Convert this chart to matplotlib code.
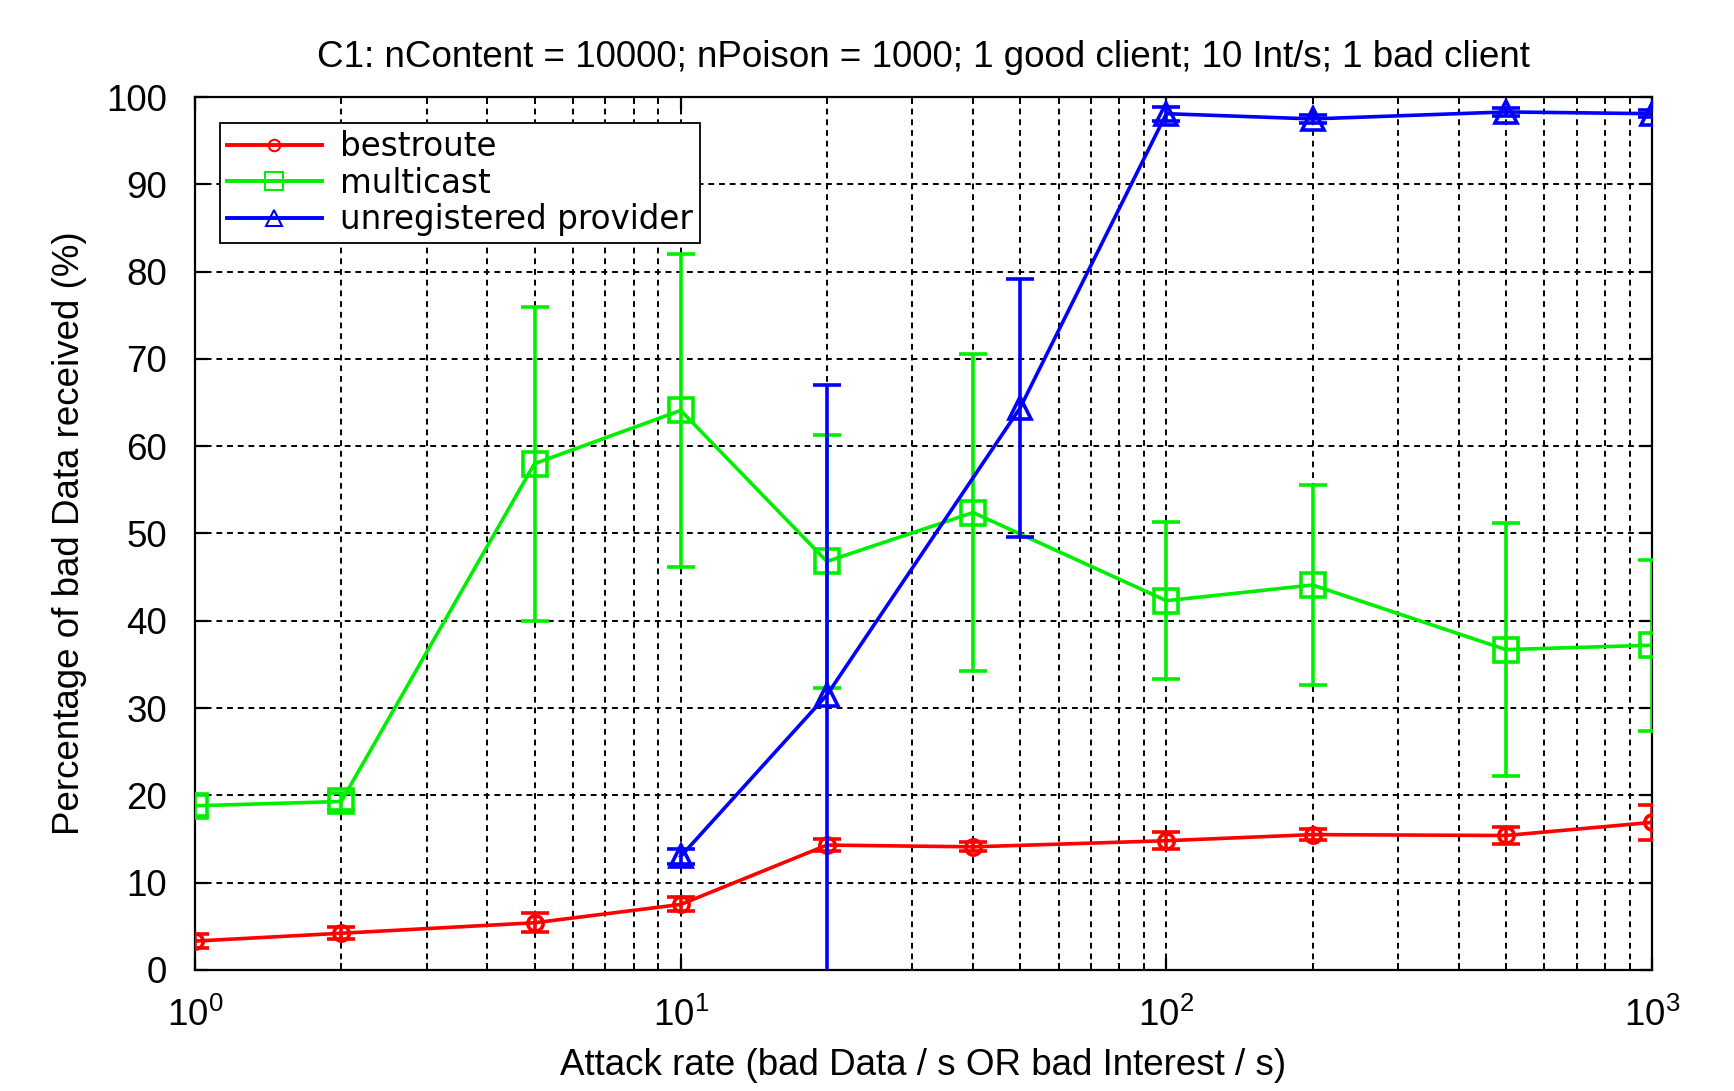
import matplotlib
matplotlib.use("Agg")
import matplotlib.pyplot as plt
from matplotlib.lines import Line2D
from matplotlib.ticker import LogLocator, NullFormatter, MultipleLocator

# Data
x_rates = [1, 2, 5, 10, 20, 40, 100, 200, 500, 1000]
bestroute_y = [3.3, 4.2, 5.4, 7.5, 14.3, 14.1, 14.8, 15.5, 15.4, 16.9]
bestroute_err = [0.8, 0.7, 1.1, 0.8, 0.7, 0.5, 1.0, 0.6, 1.0, 2.0]
multicast_y = [18.8, 19.3, 58.0, 64.1, 46.8, 52.4, 42.3, 44.1, 36.7, 37.2]
multicast_err = [1.2, 1.0, 18.0, 17.9, 14.5, 18.2, 9.0, 11.5, 14.5, 9.8]
unreg_x = [10, 20, 50, 100, 200, 500, 1000]
unreg_y = [13.0, 31.5, 64.4, 98.1, 97.5, 98.3, 98.1]
unreg_err = [0.9, 35.5, 14.8, 0.8, 0.5, 0.5, 0.4]

title = "C1: nContent = 10000; nPoison = 1000; 1 good client; 10 Int/s; 1 bad client"
xlabel = "Attack rate (bad Data / s OR bad Interest / s)"
ylabel = "Percentage of bad Data received (%)"

RED = "#ff0000"
GREEN = "#00ee00"
BLUE = "#0000ff"

plt.rcParams['font.family'] = ['Liberation Sans', 'DejaVu Sans']
plt.rcParams['mathtext.fontset'] = 'custom'
plt.rcParams['mathtext.rm'] = 'Liberation Sans'
plt.rcParams['mathtext.it'] = 'Liberation Sans'
plt.rcParams['mathtext.default'] = 'regular'

fig = plt.figure(figsize=(17.34, 10.91), dpi=100)
ax = fig.add_axes([0.1125, 0.111, 0.8402, 0.800])

series = [
    (x_rates, bestroute_y, bestroute_err, RED, 'o', 11, "bestroute"),
    (x_rates, multicast_y, multicast_err, GREEN, 's', 17, "multicast"),
    (unreg_x, unreg_y, unreg_err, BLUE, '^', 16, "unregistered provider"),
]
handles = []
for i, (xs, ys, es, c, m, ms, lab) in enumerate(series):
    ax.errorbar(xs, ys, yerr=es, color=c, marker=m, markersize=ms,
                markerfacecolor='none', markeredgecolor=c, markeredgewidth=2.6,
                linewidth=2.6, elinewidth=2.6, capsize=10, capthick=2.6,
                zorder=3 + i, clip_on=True)
    handles.append(Line2D([], [], color=c, marker=m, markersize=ms * 0.75,
                          markerfacecolor='none', markeredgecolor=c,
                          markeredgewidth=1.5, linewidth=2.8, label=lab))

ax.set_xscale('log')
ax.set_xlim(1, 1000)
ax.set_ylim(0, 100)
ax.yaxis.set_major_locator(MultipleLocator(10))
ax.xaxis.set_major_locator(LogLocator(base=10, numticks=10))
ax.xaxis.set_minor_locator(LogLocator(base=10, subs=range(2, 10), numticks=20))
ax.xaxis.set_minor_formatter(NullFormatter())

grid_kw = dict(color='black', linestyle=(0, (3, 2.5)), linewidth=1.4)
ax.grid(True, which='major', axis='both', **grid_kw)
ax.grid(True, which='minor', axis='x', **grid_kw)
ax.set_axisbelow(True)

for s in ax.spines.values():
    s.set_linewidth(1.6)

ax.tick_params(which='major', direction='in', length=9, width=1.6,
               top=True, right=True, labelsize=26.5, pad=20)
ax.tick_params(which='minor', direction='in', length=5, width=1.4,
               top=True, right=True)
ax.tick_params(axis='x', which='major', pad=20)

ax.set_title(title, fontsize=26.5, pad=22)
ax.set_xlabel(xlabel, fontsize=26.5, labelpad=10)
ax.set_ylabel(ylabel, fontsize=26.5, labelpad=14)

leg = ax.legend(handles=handles, loc='upper left', bbox_to_anchor=(0.017, 0.970),
                prop={'family': 'DejaVu Sans', 'size': 23.5}, frameon=True,
                fancybox=False, edgecolor='black', framealpha=1,
                borderpad=0.22, labelspacing=0.1, handlelength=2.9,
                handletextpad=0.55, borderaxespad=0)
leg.get_frame().set_linewidth(1.3)
leg.set_zorder(10)

fig.savefig("out.png", dpi=100)
